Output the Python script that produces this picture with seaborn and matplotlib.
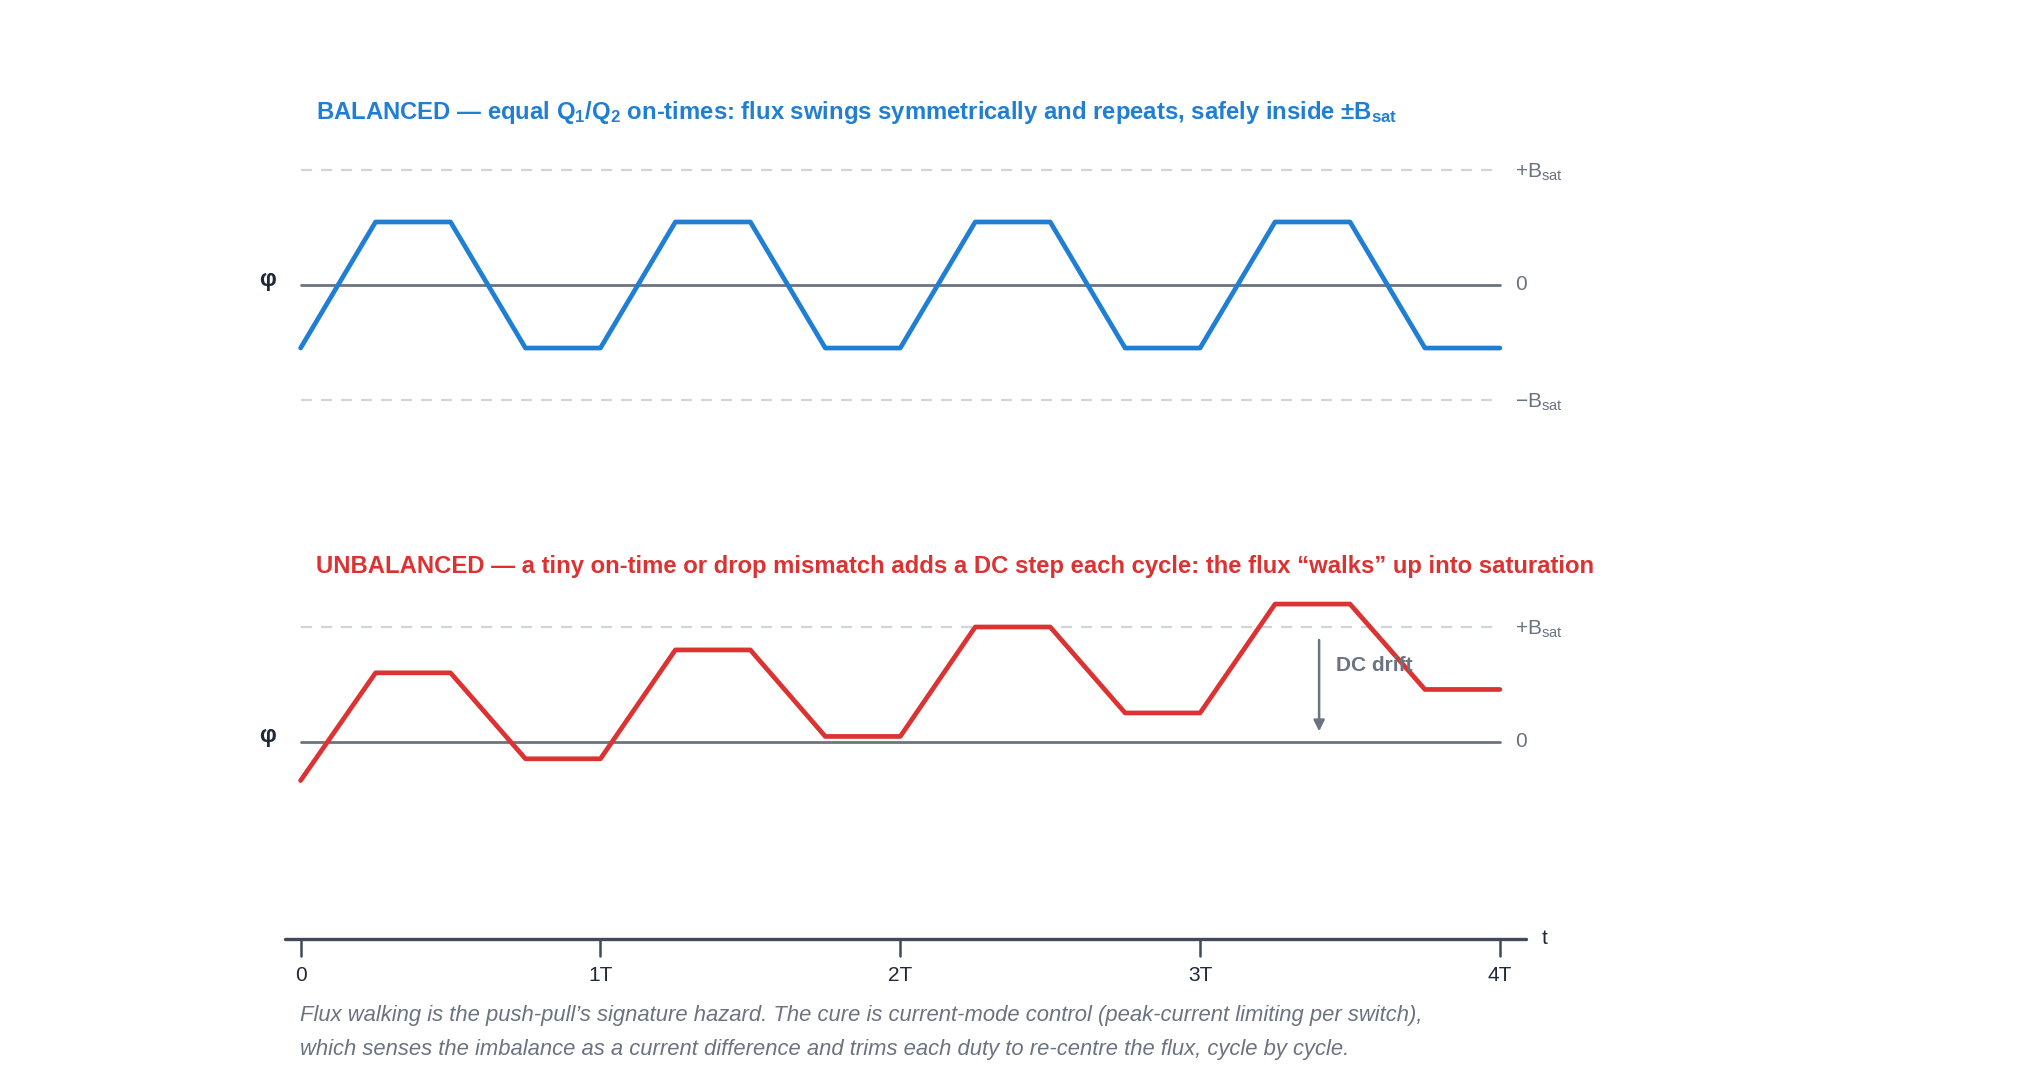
import numpy as np
import pandas as pd
import matplotlib
matplotlib.use("Agg")
import matplotlib.pyplot as plt
import seaborn as sns

# ---- data (time in units of T, flux in units of B_sat) ----
t_knots = [0, 0.25, 0.5, 0.75, 1.0, 1.25, 1.5, 1.75, 2.0, 2.25, 2.5, 2.75,
           3.0, 3.25, 3.5, 3.75, 4.0]
flux_balanced = [-0.55, 0.55, 0.55, -0.55, -0.55, 0.55, 0.55, -0.55, -0.55,
                 0.55, 0.55, -0.55, -0.55, 0.55, 0.55, -0.55, -0.55]
flux_unbalanced = [-0.34, 0.60, 0.60, -0.15, -0.15, 0.80, 0.80, 0.045, 0.045,
                   1.00, 1.00, 0.25, 0.25, 1.20, 1.20, 0.455, 0.455]
tick_pos = [0, 1, 2, 3, 4]
tick_labels = ["0", "1T", "2T", "3T", "4T"]
drift_t = 3.397
drift_from = 0.886
drift_to = 0.09

title_bal = r"BALANCED — equal Q$_\mathbf{1}$/Q$_\mathbf{2}$ on-times: flux swings symmetrically and repeats, safely inside ±B$_\mathbf{sat}$"
title_unb = "UNBALANCED — a tiny on-time or drop mismatch adds a DC step each cycle: the flux “walks” up into saturation"
caption_lines = ["Flux walking is the push-pull’s signature hazard. The cure is current-mode control (peak-current limiting per switch),",
                 "which senses the imbalance as a current difference and trims each duty to re-centre the flux, cycle by cycle."]

sns.set_theme(style="white")
plt.rcParams["font.family"] = ["Liberation Sans", "DejaVu Sans"]
plt.rcParams["mathtext.fontset"] = "custom"
plt.rcParams["mathtext.rm"] = "Liberation Sans"
plt.rcParams["mathtext.it"] = "Liberation Sans:italic"
plt.rcParams["mathtext.bf"] = "Liberation Sans:bold"

BLUE = "#1f7fd4"
RED = "#dc3232"
GRAY = "#6b7280"
DASH = "#d1d5db"
DARK = "#1f2937"
AXIS = "#3f4a5a"

W, H = 2040, 1088
fig = plt.figure(figsize=(W / 100, H / 100), dpi=100)
fig.patch.set_facecolor("white")

xl, xr = 285, 1526
ppb = 114.6  # pixels per B_sat


def make_axes(zero_px, ytop, ybot):
    top_px = zero_px - ytop * ppb
    bot_px = zero_px - ybot * ppb
    ax = fig.add_axes([xl / W, 1 - bot_px / H, (xr - xl) / W, (bot_px - top_px) / H])
    ax.set_ylim(ybot, ytop)
    ax.set_xlim(-0.052, 4.087)
    ax.axis("off")
    return ax


ax1 = make_axes(285, 1.3, -1.3)
ax2 = make_axes(741.6, 1.5, -1.72)

df_b = pd.DataFrame({"t": t_knots, "flux": flux_balanced})
df_u = pd.DataFrame({"t": t_knots, "flux": flux_unbalanced})

for ax, df, color, sat_levels in [(ax1, df_b, BLUE, [1, -1]), (ax2, df_u, RED, [1])]:
    for lev in sat_levels:
        ax.plot([0, 4], [lev, lev], color=DASH, lw=1.6, ls=(0, (5, 4)), zorder=1)
    ax.plot([0, 4], [0, 0], color=GRAY, lw=2.0, zorder=2)
    sns.lineplot(data=df, x="t", y="flux", ax=ax, color=color, lw=3.4,
                 sort=False, estimator=None, zorder=3)
    ax.axis("off")
    ax.text(-0.112, 0.05, "φ", fontsize=17, fontweight="bold", color=DARK,
            ha="center", va="center")
    ax.text(4.05, 0, "0", fontsize=15, color=GRAY, ha="left", va="center")
    ax.text(4.05, 0.98, r"+B$_\mathrm{sat}$", fontsize=15, color=GRAY, ha="left", va="center")
    if -1 in sat_levels:
        ax.text(4.05, -1.02, r"−B$_\mathrm{sat}$", fontsize=15, color=GRAY, ha="left", va="center")

# DC drift annotation
ax2.annotate("", xy=(drift_t, drift_to), xytext=(drift_t, drift_from),
             arrowprops=dict(arrowstyle="-|>", color=GRAY, lw=1.8,
                             mutation_scale=16, shrinkA=0, shrinkB=0), zorder=4)
ax2.text(drift_t + 0.056, 0.66, "DC drift", fontsize=15, fontweight="bold",
         color=GRAY, ha="left", va="center", zorder=5)

# time axis at bottom
ybase = -1.72
ax2.plot([-0.052, 4.087], [ybase, ybase], color=AXIS, lw=2.4, clip_on=False, zorder=3)
for p, lab in zip(tick_pos, tick_labels):
    ax2.plot([p, p], [ybase, ybase - 0.15], color=AXIS, lw=1.8, clip_on=False)
    ax2.text(p, ybase - 0.32, lab, fontsize=15, color=DARK, ha="center", va="center")
ax2.text(4.15, ybase, "t", fontsize=15, color=DARK, ha="center", va="center")

# titles and caption
fig.text(316 / W, 1 - 112 / H, title_bal, fontsize=17.2, fontweight="bold",
         color=BLUE, ha="left", va="center")
fig.text(316 / W, 1 - 567 / H, title_unb, fontsize=17.2, fontweight="bold",
         color=RED, ha="left", va="center")
for i, line in enumerate(caption_lines):
    fig.text(300 / W, 1 - (1015 + 34 * i) / H, line, fontsize=15.8, style="italic",
             color=GRAY, ha="left", va="center")

fig.savefig("out.png", dpi=100, facecolor="white")
